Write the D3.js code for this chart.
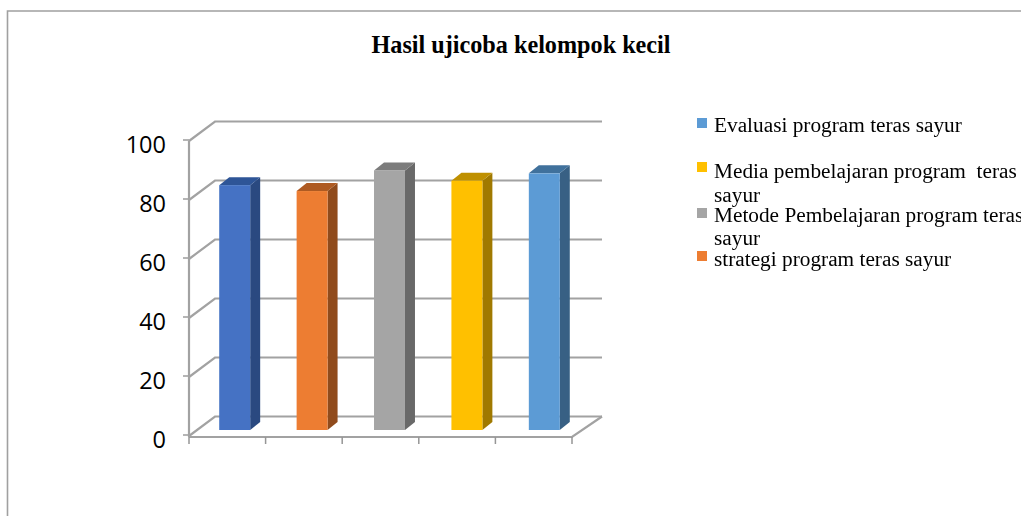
<!DOCTYPE html>
<html><head><meta charset="utf-8">
<script src="https://cdn.jsdelivr.net/npm/d3@7"></script>
<style>
html,body{margin:0;padding:0;background:#fff;overflow:hidden}
svg{display:block}
.serif{font-family:"Liberation Serif",serif;white-space:pre}
</style></head><body>
<svg id="c" width="1021" height="516"></svg>
<script>
const chartTitle = "Hasil ujicoba kelompok kecil";
const barIds = ["b1","b2","b3","b4","b5"];
const barValues = [83, 81, 88, 84.5, 87];
const tickValues = [0,20,40,60,80,100];
const legendLabels = [
  ["Evaluasi program teras sayur"],
  ["Media pembelajaran program  teras","sayur"],
  ["Metode Pembelajaran program teras","sayur"],
  ["strategi program teras sayur"]
];
const barPalette = [
  {front:"#4472c4",side:"#2a4a80",top:"#2f5597"},
  {front:"#ed7d31",side:"#904c1c",top:"#ae5a21"},
  {front:"#a5a5a5",side:"#696969",top:"#7b7b7b"},
  {front:"#ffc000",side:"#a07900",top:"#bf9000"},
  {front:"#5b9bd5",side:"#376184",top:"#41719c"}
];
const legendColors = ["#5b9bd5","#ffc000","#a5a5a5","#ed7d31"];
const legendTextY = [[132],[178,202],[222,245],[266]];
const legendSwatchY = [118,162,208,251];

const svg = d3.select("#c");
const defs = svg.append("defs");
defs.append("filter").attr("id","soft").attr("x","-5%").attr("y","-5%").attr("width","110%").attr("height","110%")
  .append("feGaussianBlur").attr("stdDeviation",0.55);
defs.append("filter").attr("id","softText").attr("x","-5%").attr("y","-20%").attr("width","110%").attr("height","140%")
  .append("feGaussianBlur").attr("stdDeviation",0.3);

// frame
svg.append("path").attr("d","M7.5,516V11H1021").attr("fill","none").attr("stroke","#a0a0a0").attr("stroke-width",1.6);

// title
svg.append("text").attr("class","serif").attr("x",521).attr("y",53).attr("text-anchor","middle")
  .attr("font-size",24.2).attr("font-weight","bold").attr("fill","#000").text(chartTitle);

// scales
const y = d3.scaleLinear().domain([0,100]).range([436,141]);
const xAxis = d3.scaleBand().domain(barIds).range([189,572]).paddingInner(0.6).paddingOuter(0.3);
const xBars = d3.scaleBand().domain(barIds).range([196,583]).paddingInner(0.6).paddingOuter(0.3);
const wall = {dx:26, dy:-19.5, extra:4};
const barPlane = {dy:-6};
const depth = {dx:10, dy:-8};

const plot = svg.append("g").attr("filter","url(#soft)");
const gridCol = "#a2a2a2";
const left = xAxis.range()[0], right = xAxis.range()[1];

// wall gridlines
plot.append("g").selectAll("path").data(tickValues).join("path")
  .attr("fill","none").attr("stroke",gridCol).attr("stroke-width",2.2)
  .attr("d",d=>`M${left},${y(d)}L${left+wall.dx},${y(d)+wall.dy}H${right+wall.dx+wall.extra}`);
// floor right edge + front edge
plot.append("path").attr("fill","none").attr("stroke",gridCol).attr("stroke-width",2.2)
  .attr("d",`M${left},${y(0)+1}H${right}L${right+wall.dx+wall.extra},${y(0)+wall.dy}`);
// vertical axis
plot.append("path").attr("fill","none").attr("stroke",gridCol).attr("stroke-width",2.2)
  .attr("d",`M${left},${y(100)}V${y(0)+1}`);
// y ticks
plot.append("g").selectAll("line").data(tickValues).join("line")
  .attr("x1",left-6).attr("x2",left).attr("y1",d=>y(d)-1).attr("y2",d=>y(d)-1)
  .attr("stroke",gridCol).attr("stroke-width",1.6);
// x ticks
const step = xAxis.step();
plot.append("g").selectAll("line").data(d3.range(barIds.length+1)).join("line")
  .attr("x1",i=>left+i*step).attr("x2",i=>left+i*step).attr("y1",y(0)+1).attr("y2",y(0)+8)
  .attr("stroke","#969696").attr("stroke-width",1.5);

// bars
const bars = plot.append("g").selectAll("g").data(barIds.map((id,i)=>({id,v:barValues[i],c:barPalette[i]}))).join("g");
const barTop = d=>y(d.v)+barPlane.dy, barBase = y(0)+barPlane.dy;
bars.append("path").attr("fill",d=>d.c.side).attr("d",d=>{
  const r=xBars(d.id)+xBars.bandwidth();
  return `M${r},${barTop(d)}L${r+depth.dx},${barTop(d)+depth.dy}V${barBase+depth.dy}L${r},${barBase}Z`;});
bars.append("path").attr("fill",d=>d.c.top).attr("d",d=>{
  const l=xBars(d.id), r=l+xBars.bandwidth(), t=barTop(d);
  return `M${l},${t}L${l+depth.dx},${t+depth.dy}H${r+depth.dx}L${r},${t}Z`;});
bars.append("rect").attr("fill",d=>d.c.front).attr("x",d=>xBars(d.id)).attr("width",xBars.bandwidth())
  .attr("y",barTop).attr("height",d=>barBase-barTop(d));

// y labels
svg.append("g").selectAll("text").data(tickValues).join("text")
  .attr("x",166).attr("y",d=>y(d)+11.5).attr("text-anchor","end")
  .attr("font-family","'Open Sans',sans-serif").attr("font-size",23.5).attr("fill","#000").text(d=>d);

// legend
const leg = svg.append("g").attr("filter","url(#softText)").selectAll("g").data(legendLabels).join("g");
leg.append("rect").attr("x",697).attr("width",10).attr("height",10)
  .attr("y",(d,i)=>legendSwatchY[i]).attr("fill",(d,i)=>legendColors[i]);
leg.each(function(lines,i){
  d3.select(this).selectAll("text").data(lines).join("text").attr("class","serif")
    .attr("x",714).attr("y",(l,j)=>legendTextY[i][j]).attr("font-size",21.3).attr("fill","#000").text(l=>l);
});
</script>
</body></html>
